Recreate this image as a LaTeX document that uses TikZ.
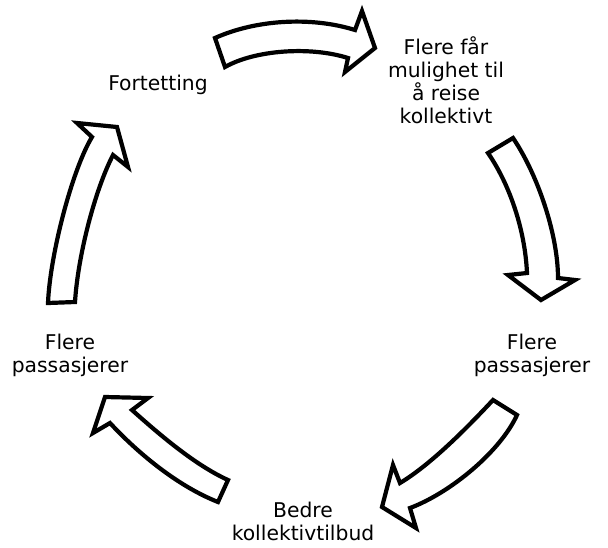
\documentclass[tikz,border=0pt]{standalone}
\usepackage{fontspec}
\setmainfont{DejaVu Sans}
\begin{document}
\begin{tikzpicture}[x=1pt,y=-1pt,
  lbl/.style={align=center, font=\fontsize{20.3}{23}\selectfont, inner sep=0pt, anchor=base, text=black},
  blockarrow/.style={draw=black, fill=white, line width=4.2pt, line join=miter}]
\useasboundingbox (0,0) rectangle (608,547);
% labels (anchor base = baseline of last line)
\node[lbl] (fort) at (158,90) {Fortetting};
\node[lbl] (mulig) at (446,123) {Flere får\\mulighet til\\å reise\\kollektivt};
\node[lbl] (passR) at (532,372) {Flere\\passasjerer};
\node[lbl] (bedre) at (303,540) {Bedre\\kollektivtilbud};
\node[lbl] (passL) at (70,372) {Flere\\passasjerer};
% arrows
\draw[blockarrow] (215,38) .. controls (255,20) and (310,16) .. (355,30) -- (362,11) -- (375,48) -- (345,72) -- (348,58) .. controls (310,46) and (255,50) .. (225,67) -- cycle;
\draw[blockarrow] (488,153) -- (513,138) .. controls (538,175) and (558,235) .. (558,278) -- (575,280) -- (541,300) -- (508,275) -- (527,273) .. controls (525,230) and (510,185) .. (488,153) -- cycle;
\draw[blockarrow] (493,400) .. controls (465,430) and (430,465) .. (400,483) -- (393,465) -- (382,507) -- (416,528) -- (410,508) .. controls (450,493) and (500,452) .. (517,415) -- cycle;
\draw[blockarrow] (228,480) .. controls (195,465) and (160,435) .. (132,410) -- (148,398) -- (105,397) -- (93,433) -- (110,423) .. controls (135,450) and (175,485) .. (218,502) -- cycle;
\draw[blockarrow] (48,303) -- (75,302) .. controls (78,255) and (95,190) .. (113,155) -- (128,167) -- (117,127) -- (77,123) -- (92,137) .. controls (72,170) and (50,255) .. (48,303) -- cycle;
\end{tikzpicture}
\end{document}
